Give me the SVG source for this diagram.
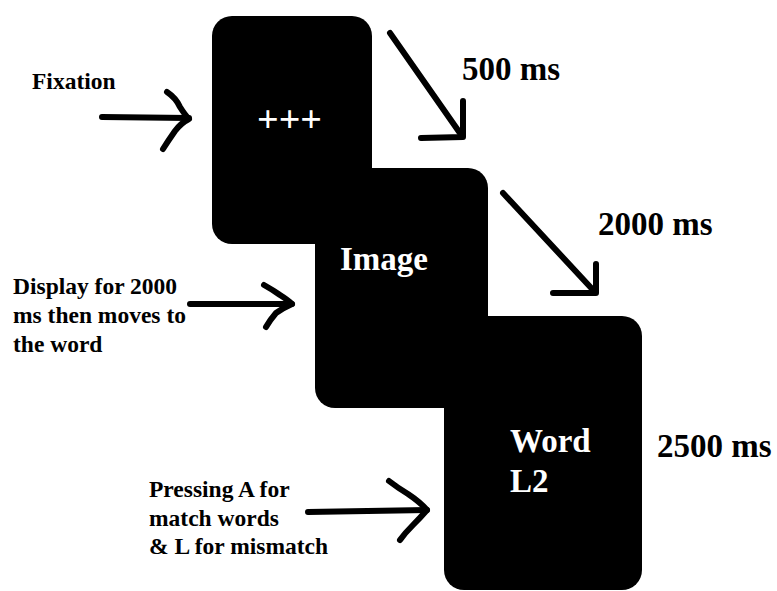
<svg xmlns="http://www.w3.org/2000/svg" width="777" height="591" viewBox="0 0 777 591">
  <style>
    .card { fill: #000; }
    .inner { font-family: "Liberation Serif", "Times New Roman", serif; fill: #fff; }
    .label { font-family: "Liberation Serif", "Times New Roman", serif; font-weight: bold; fill: #000; }
    .big { font-size: 33px; }
    .small { font-size: 23.5px; }
    .stroke { fill: none; stroke: #000; stroke-width: 6; stroke-linecap: round; stroke-linejoin: round; }
  </style>
  <rect width="777" height="591" fill="#fff"/>

  <!-- Fixation screen -->
  <g id="fixation">
    <rect class="card" x="212" y="16" width="160" height="228" rx="20" ry="20"/>
    <text class="inner" x="257" y="132" font-size="38" font-weight="bold">+++</text>
  </g>

  <!-- Image screen -->
  <g id="image">
    <rect class="card" x="315" y="168" width="173" height="240" rx="20" ry="20"/>
    <text class="inner big" x="340" y="270" font-weight="bold">Image</text>
  </g>

  <!-- Word screen -->
  <g id="word">
    <rect class="card" x="444" y="316" width="198" height="274" rx="20" ry="20"/>
    <text class="inner big" font-weight="bold"><tspan x="510" y="452">Word</tspan><tspan x="510" y="492">L2</tspan></text>
  </g>

  <!-- Side labels -->
  <g id="labels">
    <text class="label small" x="32" y="89">Fixation</text>
    <text class="label small"><tspan x="13" y="294">Display for 2000</tspan><tspan x="13" y="323">ms then moves to</tspan><tspan x="13" y="352">the word</tspan></text>
    <text class="label small"><tspan x="149" y="497">Pressing A for</tspan><tspan x="149" y="526">match words</tspan><tspan x="149" y="554">&amp; L for mismatch</tspan></text>
    <text class="label big" x="462" y="80">500 ms</text>
    <text class="label big" x="598" y="235">2000 ms</text>
    <text class="label big" x="657" y="457">2500 ms</text>
  </g>

  <!-- Connectors -->
  <g id="connectors">
    <!-- into fixation -->
    <path class="stroke" d="M102,117 L189,118"/>
    <path class="stroke" d="M167,92 Q176,98 180,107 Q185,115 189,119 Q181,123 175,131 Q168,141 163,149"/>
    <!-- into image -->
    <path class="stroke" d="M190,304 L292,304"/>
    <path class="stroke" d="M264,285 Q273,290 280,295 Q288,300 292,304 Q283,308 276,313 Q270,320 266,327"/>
    <!-- into word -->
    <path class="stroke" d="M308,512 L427,510"/>
    <path class="stroke" d="M389,481 Q398,488 408,494 Q420,502 427,510 Q420,518 413,525 Q405,533 400,540"/>
    <!-- 500 ms step -->
    <path class="stroke" d="M390,33 L462,136"/>
    <path class="stroke" d="M463,101 L463,137 L421,138"/>
    <!-- 2000 ms step -->
    <path class="stroke" d="M503,193 L594,291"/>
    <path class="stroke" d="M596,264 L596,293 L553,293"/>
  </g>
</svg>
